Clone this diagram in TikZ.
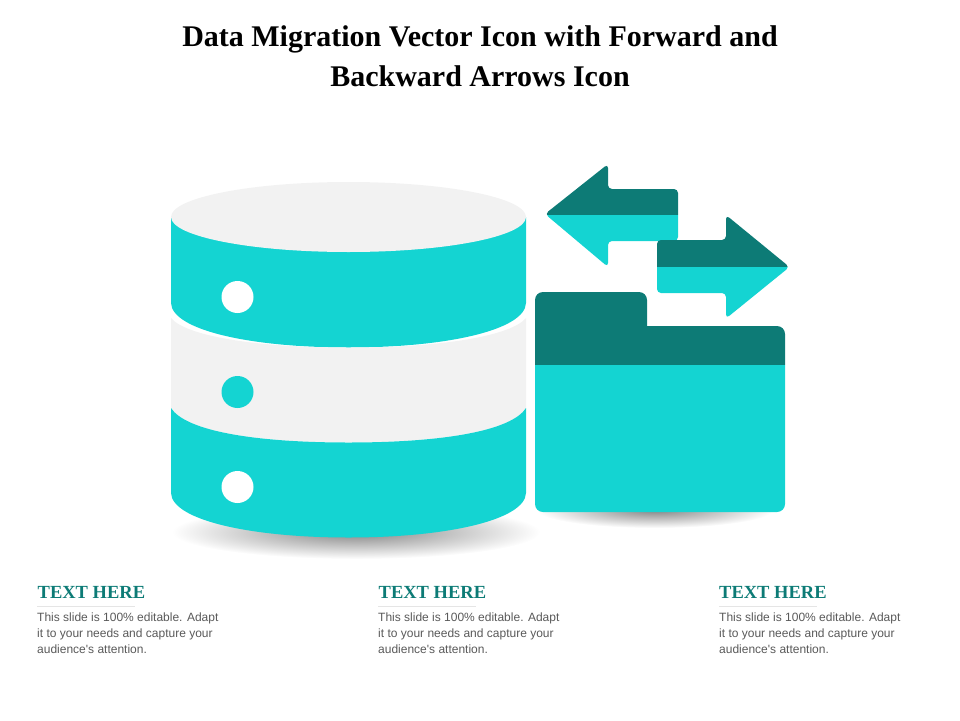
\documentclass[tikz,border=0pt]{standalone}
\usepackage{fontspec}
\setmainfont{Liberation Serif}
\newfontfamily\bodyfont{Liberation Sans}
\definecolor{aqua}{HTML}{14D4D2}
\definecolor{deep}{HTML}{0D7B76}
\definecolor{pale}{HTML}{F2F2F2}
\definecolor{bodygray}{HTML}{595959}
\tikzset{
  titletext/.style={font=\fontsize{30}{40}\selectfont\bfseries,align=center,text=black,inner sep=0pt},
  headtext/.style={font=\fontsize{18.5}{22}\selectfont\bfseries,text=deep,anchor=west,inner sep=0pt},
  bodytext/.style={font=\bodyfont\fontsize{12}{16.2}\selectfont,text=bodygray,anchor=north west,align=left,inner sep=0pt},
  rulegray/.style={draw=black!10,line width=0.5pt},
  hole/.style={fill=white,draw=none},
  shadowblob/.style={inner color=black!48,outer color=white,draw=none}
}
\begin{document}
\begin{tikzpicture}[x=1pt,y=-1pt]
\useasboundingbox (0,0) rectangle (960,720);
% title
\node[titletext] (title) at (480,56.5) {Data Migration Vector Icon with Forward and\\Backward Arrows Icon};
% shadows
\begin{scope}
\clip (160,500) rectangle (560,570);
\shade[shadowblob] (356,532) ellipse [x radius=184, y radius=27];
\end{scope}
\begin{scope}
\clip (530,500) rectangle (790,540);
\shade[shadowblob] (655,510) ellipse [x radius=118, y radius=18];
\end{scope}
% cylinder
\fill[aqua] (171,217) -- (171,303) .. controls (172,330) and (250,347.5) .. (348.5,347.5) .. controls (447,347.5) and (525,330) .. (526,303) -- (526,217) -- cycle;
\fill[pale] (171,217) arc [start angle=180,end angle=540,x radius=177.5,y radius=35];
\fill[pale] (171,318) .. controls (185,335) and (250,347.5) .. (348.5,347.5) .. controls (447,347.5) and (512,335) .. (526,318) -- (526,408) .. controls (512,430) and (447,442.5) .. (348.5,442.5) .. controls (250,442.5) and (185,430) .. (171,408) -- cycle;
\fill[aqua] (171,408) .. controls (185,430) and (250,442.5) .. (348.5,442.5) .. controls (447,442.5) and (512,430) .. (526,408) -- (526,493) .. controls (525,520) and (447,537.5) .. (348.5,537.5) .. controls (250,537.5) and (172,520) .. (171,493) -- cycle;
\fill[hole] (237.5,297) circle (16);
\fill[aqua] (237.5,392) circle (16);
\fill[hole] (237.5,487) circle (16);
% back arrow
\begin{scope}
\clip[rounded corners=4pt] (545,214) -- (608,164) -- (608,189) -- (678,189) -- (678,241) -- (608,241) -- (608,267) -- cycle;
\fill[deep] (540,160) rectangle (680,214.5);
\fill[aqua] (540,214.5) rectangle (680,270);
\end{scope}
% forward arrow
\begin{scope}
\clip[rounded corners=4pt] (789.5,267) -- (726,215) -- (726,240) -- (657,240) -- (657,293) -- (726,293) -- (726,318.5) -- cycle;
\fill[deep] (650,210) rectangle (795,267);
\fill[aqua] (650,267) rectangle (795,322);
\end{scope}
% folder
\begin{scope}
\clip[rounded corners=8pt] (535,292) -- (647,292) -- (647,326) [sharp corners] -- (647,326) [rounded corners=8pt] -- (785,326) -- (785,512) -- (535,512) -- cycle;
\fill[deep] (530,288) rectangle (790,365);
\fill[aqua] (530,365) rectangle (790,516);
\end{scope}
% captions
\node[headtext] (h1) at (37.5,592.5) {TEXT HERE};
\node[headtext] (h2) at (378.5,592.5) {TEXT HERE};
\node[headtext] (h3) at (719,592.5) {TEXT HERE};
\coordinate (r1a) at (37,606); \coordinate (r1b) at (135,606);
\coordinate (r2a) at (378,606); \coordinate (r2b) at (476,606);
\coordinate (r3a) at (719,606); \coordinate (r3b) at (817,606);
\draw[rulegray] (r1a) -- (r1b);
\draw[rulegray] (r2a) -- (r2b);
\draw[rulegray] (r3a) -- (r3b);
\node[bodytext] (b1) at (37,612.5) {This slide is 100\% editable. Adapt\\it to your needs and capture your\\audience's attention.};
\node[bodytext] (b2) at (378,612.5) {This slide is 100\% editable. Adapt\\it to your needs and capture your\\audience's attention.};
\node[bodytext] (b3) at (719,612.5) {This slide is 100\% editable. Adapt\\it to your needs and capture your\\audience's attention.};
\end{tikzpicture}
\end{document}
